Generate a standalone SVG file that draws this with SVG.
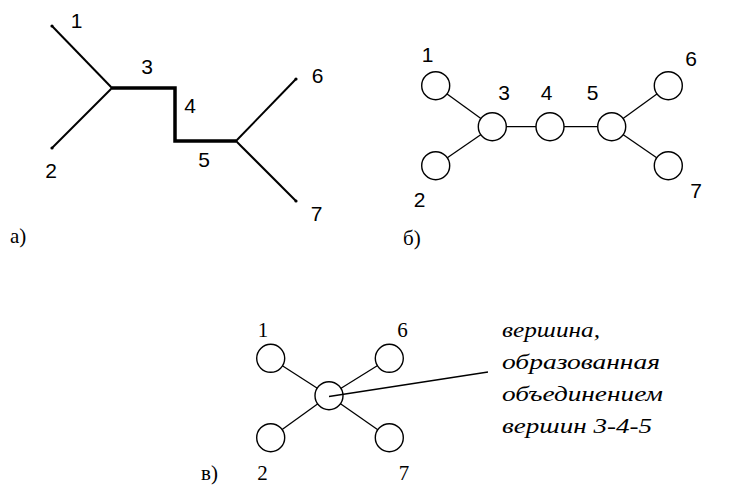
<svg xmlns="http://www.w3.org/2000/svg" width="739" height="485" viewBox="0 0 739 485">
<style>
.sans{font-family:"Liberation Sans",Arial,sans-serif;font-size:21px;fill:#000;text-anchor:middle}
.serif{font-family:"Liberation Serif","Times New Roman",serif;font-size:21px;fill:#000;text-anchor:middle}
.lbl{font-family:"Liberation Serif","Times New Roman",serif;font-size:21px;fill:#000}
.ital{font-family:"Liberation Serif","Times New Roman",serif;font-style:italic;font-weight:normal;font-size:21px;fill:#000}
.node{fill:#fff;stroke:#000;stroke-width:1.4}
.edge{stroke:#000;stroke-width:1.3;fill:none}
.thin{stroke:#000;stroke-width:2;fill:none}
.thick{stroke:#000;stroke-width:3.5;fill:none}
</style>
<rect width="739" height="485" fill="#fff"/>

<!-- Part a -->
<g id="part-a">
  <g id="a-connectors">
    <line class="thin" x1="52" y1="26" x2="112" y2="88"/>
    <line class="thin" x1="52" y1="148" x2="112" y2="88"/>
    <polyline class="thick" points="112,88 175,88 175,141 236,141" stroke-linejoin="miter"/>
    <line class="thin" x1="236" y1="141" x2="296" y2="79"/>
    <line class="thin" x1="236" y1="141" x2="296" y2="201"/>
    <circle cx="52" cy="26" r="1.6"/>
    <circle cx="52" cy="148" r="1.6"/>
    <circle cx="296" cy="79" r="1.6"/>
    <circle cx="296" cy="201" r="1.6"/>
  </g>
  <text class="sans" x="76.5" y="28">1</text>
  <text class="sans" x="51" y="178">2</text>
  <text class="sans" x="147" y="74">3</text>
  <text class="sans" x="190" y="113">4</text>
  <text class="sans" x="204" y="167">5</text>
  <text class="sans" x="317.5" y="83">6</text>
  <text class="sans" x="316.5" y="221">7</text>
  <text class="lbl" x="10" y="243">а)</text>
</g>

<!-- Part b -->
<g id="b-connectors">
  <line class="edge" x1="435.7" y1="85.7" x2="492.3" y2="126.7"/>
  <line class="edge" x1="435.7" y1="165.7" x2="492.3" y2="126.7"/>
  <line class="edge" x1="492.3" y1="126.7" x2="611.7" y2="126.7"/>
  <line class="edge" x1="611.7" y1="126.7" x2="668.3" y2="85.7"/>
  <line class="edge" x1="611.7" y1="126.7" x2="668.3" y2="165.7"/>
</g>
<g id="b-node1"><circle class="node" cx="435.7" cy="85.7" r="14"/><text class="sans" x="427.5" y="62">1</text></g>
<g id="b-node2"><circle class="node" cx="435.7" cy="165.7" r="14"/><text class="sans" x="419.5" y="207">2</text></g>
<g id="b-node3"><circle class="node" cx="492.3" cy="126.7" r="14"/><text class="sans" x="504" y="100">3</text></g>
<g id="b-node4"><circle class="node" cx="550" cy="126.7" r="14"/><text class="sans" x="546.5" y="100">4</text></g>
<g id="b-node5"><circle class="node" cx="611.7" cy="126.7" r="14"/><text class="sans" x="592.5" y="100">5</text></g>
<g id="b-node6"><circle class="node" cx="668.3" cy="85.7" r="14"/><text class="sans" x="691" y="66">6</text></g>
<g id="b-node7"><circle class="node" cx="668.3" cy="165.7" r="14"/><text class="sans" x="696" y="198">7</text></g>
<text class="lbl" x="403" y="245">б)</text>

<!-- Part c -->
<g id="c-connectors">
  <line class="edge" x1="270.7" y1="358.3" x2="329" y2="395.7"/>
  <line class="edge" x1="389.3" y1="358.3" x2="329" y2="395.7"/>
  <line class="edge" x1="270.7" y1="437.7" x2="329" y2="395.7"/>
  <line class="edge" x1="389.3" y1="437.7" x2="329" y2="395.7"/>
</g>
<g id="c-node1"><circle class="node" cx="270.7" cy="358.3" r="14"/><text class="serif" x="263" y="337">1</text></g>
<g id="c-node6"><circle class="node" cx="389.3" cy="358.3" r="14"/><text class="serif" x="402.5" y="337">6</text></g>
<g id="c-node2"><circle class="node" cx="270.7" cy="437.7" r="14"/><text class="serif" x="262.5" y="480">2</text></g>
<g id="c-node7"><circle class="node" cx="389.3" cy="437.7" r="14"/><text class="serif" x="404" y="480">7</text></g>
<g id="c-node345"><circle class="node" cx="329" cy="395.7" r="14"/></g>
<g id="c-pointer">
  <line class="edge" x1="329" y1="396.5" x2="488" y2="372"/>
</g>
<g id="c-note">
  <text class="ital" x="502" y="337" textLength="98" lengthAdjust="spacingAndGlyphs">вершина,</text>
  <text class="ital" x="502" y="369" textLength="158" lengthAdjust="spacingAndGlyphs">образованная</text>
  <text class="ital" x="502" y="401" textLength="161" lengthAdjust="spacingAndGlyphs">объединением</text>
  <text class="ital" x="502" y="433" textLength="150" lengthAdjust="spacingAndGlyphs">вершин 3-4-5</text>
</g>
<text class="lbl" x="201" y="480">в)</text>
</svg>
